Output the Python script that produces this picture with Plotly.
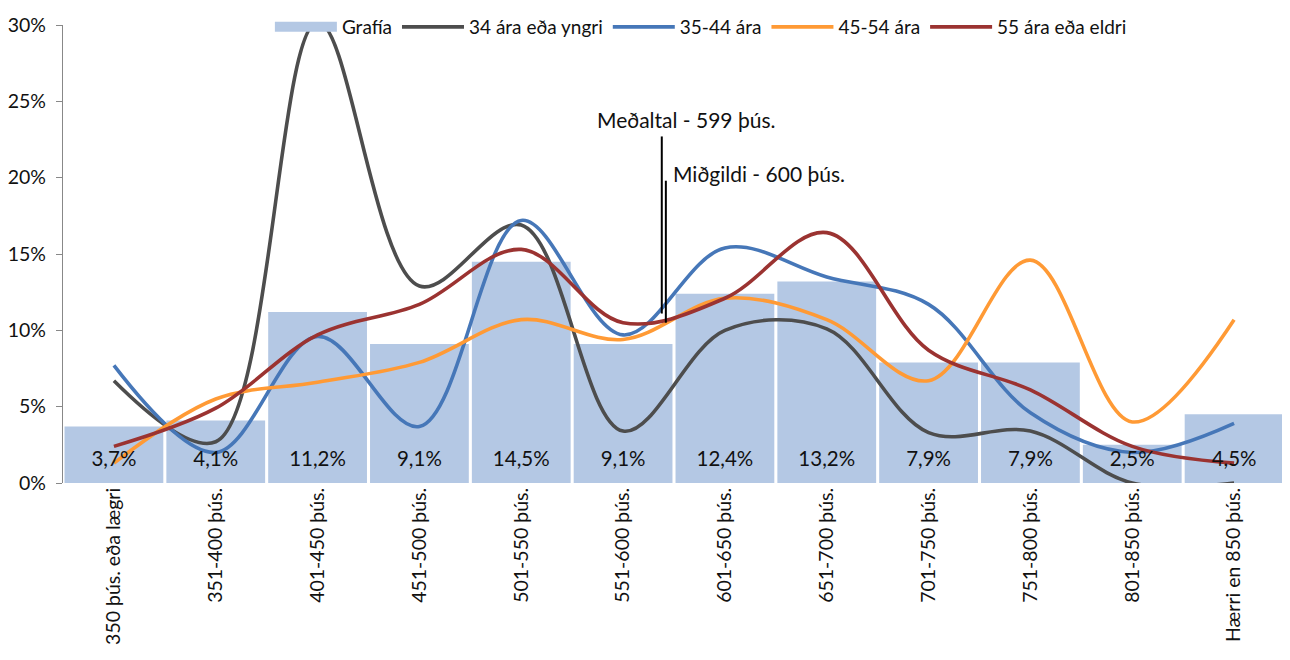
import plotly.graph_objects as go

categories = ["350 þús. eða lægri", "351-400 þús.", "401-450 þús.", "451-500 þús.",
              "501-550 þús.", "551-600 þús.", "601-650 þús.", "651-700 þús.",
              "701-750 þús.", "751-800 þús.", "801-850 þús.", "Hærri en 850 þús."]
grafia = [3.7, 4.1, 11.2, 9.1, 14.5, 9.1, 12.4, 13.2, 7.9, 7.9, 2.5, 4.5]
age_34 = [6.7, 2.7, 30.2, 12.9, 16.9, 3.4, 10.0, 10.1, 3.3, 3.4, 0.0, 0.0]
age_35_44 = [7.7, 2.0, 9.6, 3.7, 17.2, 9.7, 15.4, 13.5, 11.7, 4.6, 2.0, 3.9]
age_45_54 = [1.3, 5.5, 6.6, 7.9, 10.7, 9.4, 12.1, 10.7, 6.7, 14.6, 4.0, 10.7]
age_55 = [2.4, 4.9, 9.7, 11.7, 15.3, 10.5, 12.1, 16.4, 8.7, 6.1, 2.4, 1.3]
bar_labels = ["3,7%", "4,1%", "11,2%", "9,1%", "14,5%", "9,1%", "12,4%", "13,2%",
              "7,9%", "7,9%", "2,5%", "4,5%"]
mean_pos, median_pos = 5.38, 5.42
mean_text = "Meðaltal - 599 þús."
median_text = "Miðgildi - 600 þús."

FONT = "Lato, 'Open Sans', sans-serif"
BAR_COL = "#B4C8E4"
fig = go.Figure()
fig.add_trace(go.Bar(x=categories, y=grafia, name="Grafía", showlegend=False,
                     marker=dict(color=BAR_COL, line=dict(width=0))))
# legend entry for the bars, drawn as a wide rectangle like the original
fig.add_trace(go.Scatter(x=[None], y=[None], name="Grafía", mode="lines",
                         line=dict(color=BAR_COL, width=10)))
series = [("34 ára eða yngri", age_34, "#4D4D4D"),
          ("35-44 ára", age_35_44, "#4677B8"),
          ("45-54 ára", age_45_54, "#FF9A35"),
          ("55 ára eða eldri", age_55, "#9B3331")]
for name, vals, col in series:
    fig.add_trace(go.Scatter(x=categories, y=vals, name=name, mode="lines",
                             line=dict(color=col, width=3.6, shape="spline", smoothing=1.0),
                             cliponaxis=False))
fig.add_trace(go.Scatter(x=categories, y=[1.45] * len(categories), text=bar_labels,
                         mode="text", textfont=dict(size=20.5, color="#111", family=FONT),
                         showlegend=False, hoverinfo="skip"))

fig.add_shape(type="line", xref="x", yref="y", x0=mean_pos, x1=mean_pos, y0=11.1, y1=22.7,
              line=dict(color="black", width=2))
fig.add_shape(type="line", xref="x", yref="y", x0=median_pos, x1=median_pos, y0=10.5, y1=19.8,
              line=dict(color="black", width=2))
fig.add_annotation(x=mean_pos, y=22.7, xref="x", yref="y", text=mean_text, showarrow=False,
                   xanchor="center", yanchor="bottom", xshift=24, yshift=2,
                   font=dict(size=21, color="#111", family=FONT))
fig.add_annotation(x=median_pos, y=19.8, xref="x", yref="y", text=median_text, showarrow=False,
                   xanchor="left", yanchor="middle", xshift=5, yshift=7,
                   font=dict(size=21, color="#111", family=FONT))

fig.update_layout(
    width=1282, height=652,
    margin=dict(l=55, r=5, t=17, b=177, autoexpand=False),
    plot_bgcolor="white", paper_bgcolor="white",
    bargap=0.03,
    font=dict(family=FONT, size=19, color="#111"),
    legend=dict(orientation="h", x=0.522, xanchor="center", yref="container", y=1.0,
                yanchor="top", font=dict(size=19), itemwidth=62,
                bgcolor="rgba(0,0,0,0)", tracegroupgap=0),
    xaxis=dict(tickangle=-90, showgrid=False, showline=False, ticks="",
               tickfont=dict(size=19.5), range=[-0.5, 11.5]),
    yaxis=dict(range=[0, 30], dtick=5, ticksuffix="%", showgrid=False, showline=True,
               linecolor="#888", linewidth=1.3, ticks="outside", ticklen=6, tickcolor="#888",
               tickfont=dict(size=19.5), ticklabelstandoff=6, zeroline=False),
)
fig.write_html("out.html")
